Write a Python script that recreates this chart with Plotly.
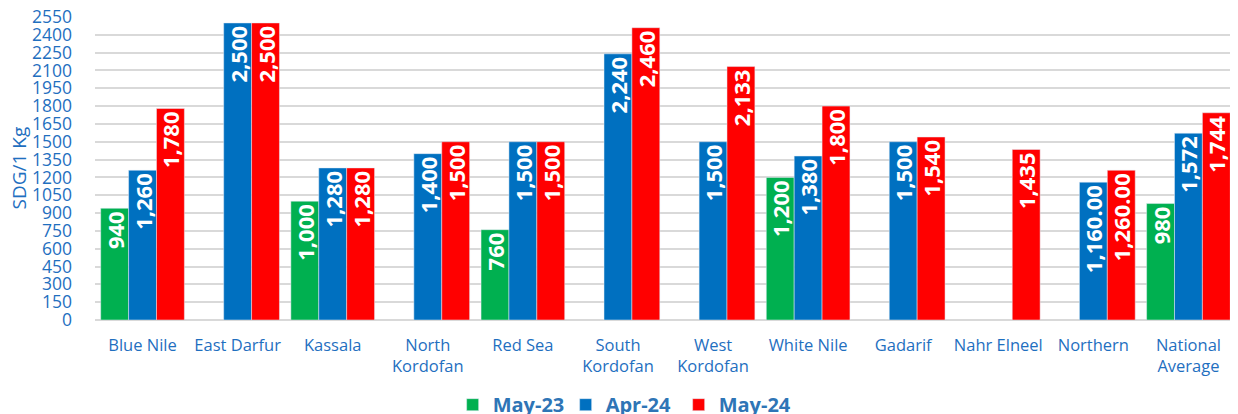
import plotly.graph_objects as go

categories = ["Blue Nile", "East Darfur", "Kassala", "North<br>Kordofan", "Red Sea",
              "South<br>Kordofan", "West<br>Kordofan", "White Nile", "Gadarif",
              "Nahr Elneel", "Northern", "National<br>Average"]
may23 = [940, None, 1000, None, 760, None, None, 1200, None, None, None, 980]
apr24 = [1260, 2500, 1280, 1400, 1500, 2240, 1500, 1380, 1500, None, 1160, 1572]
may24 = [1780, 2500, 1280, 1500, 1500, 2460, 2133, 1800, 1540, 1435, 1260, 1744]
decimals = [0, 0, 0, 0, 0, 0, 0, 0, 0, 0, 2, 0]
series_names = ["May-23", "Apr-24", "May-24"]
colors = ["#00B050", "#0070C0", "#FF0000"]
tick_vals = list(range(0, 2551, 150))

def labels(vals):
    out = []
    for v, d in zip(vals, decimals):
        out.append("" if v is None else f"{v:,.{d}f}")
    return out

fig = go.Figure()
for name, vals, c in zip(series_names, [may23, apr24, may24], colors):
    fig.add_trace(go.Bar(
        x=categories, y=vals, name=name, marker_color=c,
        text=labels(vals), textposition="inside", textangle=-90,
        insidetextanchor="end",
        textfont=dict(family="Open Sans", size=22, color="white", weight="bold"),
        cliponaxis=False,
    ))

axis_blue = "#1F6FBF"
W, H = 1230, 406
L, R, T, B = 87, 2, 9, 94
fig.update_layout(
    width=W, height=H,
    margin=dict(l=L, r=R, t=T, b=B, autoexpand=False),
    barmode="group", bargap=0.12, bargroupgap=0,
    plot_bgcolor="white", paper_bgcolor="white",
    uniformtext=dict(mode="show", minsize=22),
    legend=dict(orientation="h", x=0.462, xanchor="center", y=-0.215, yanchor="top",
                font=dict(family="Open Sans", size=20, color="#2E75B6", weight="bold"),
                itemwidth=30, traceorder="normal", entrywidth=68),
    xaxis=dict(tickfont=dict(family="Open Sans", size=16.5, color=axis_blue),
               showline=False, ticks="outside", ticklen=10, tickcolor="rgba(0,0,0,0)",
               automargin=False),
    yaxis=dict(range=[0, 2550], tickvals=tick_vals, showgrid=True,
               gridcolor="#D9D9D9", gridwidth=1.5, zeroline=True, zerolinecolor="#D9D9D9",
               zerolinewidth=1.5, ticklabelstandoff=22, automargin=False,
               ticklabeloverflow="allow",
               tickfont=dict(family="Open Sans", size=17.5, color=axis_blue)),
    annotations=[dict(text="SDG/1 Kg", textangle=-90, xref="paper", yref="paper",
                      x=-(L - 10) / (W - L - R), y=0.5, xanchor="center", yanchor="middle",
                      showarrow=False,
                      font=dict(family="Open Sans", size=19, color=axis_blue))],
)
fig.write_html("out.html")
